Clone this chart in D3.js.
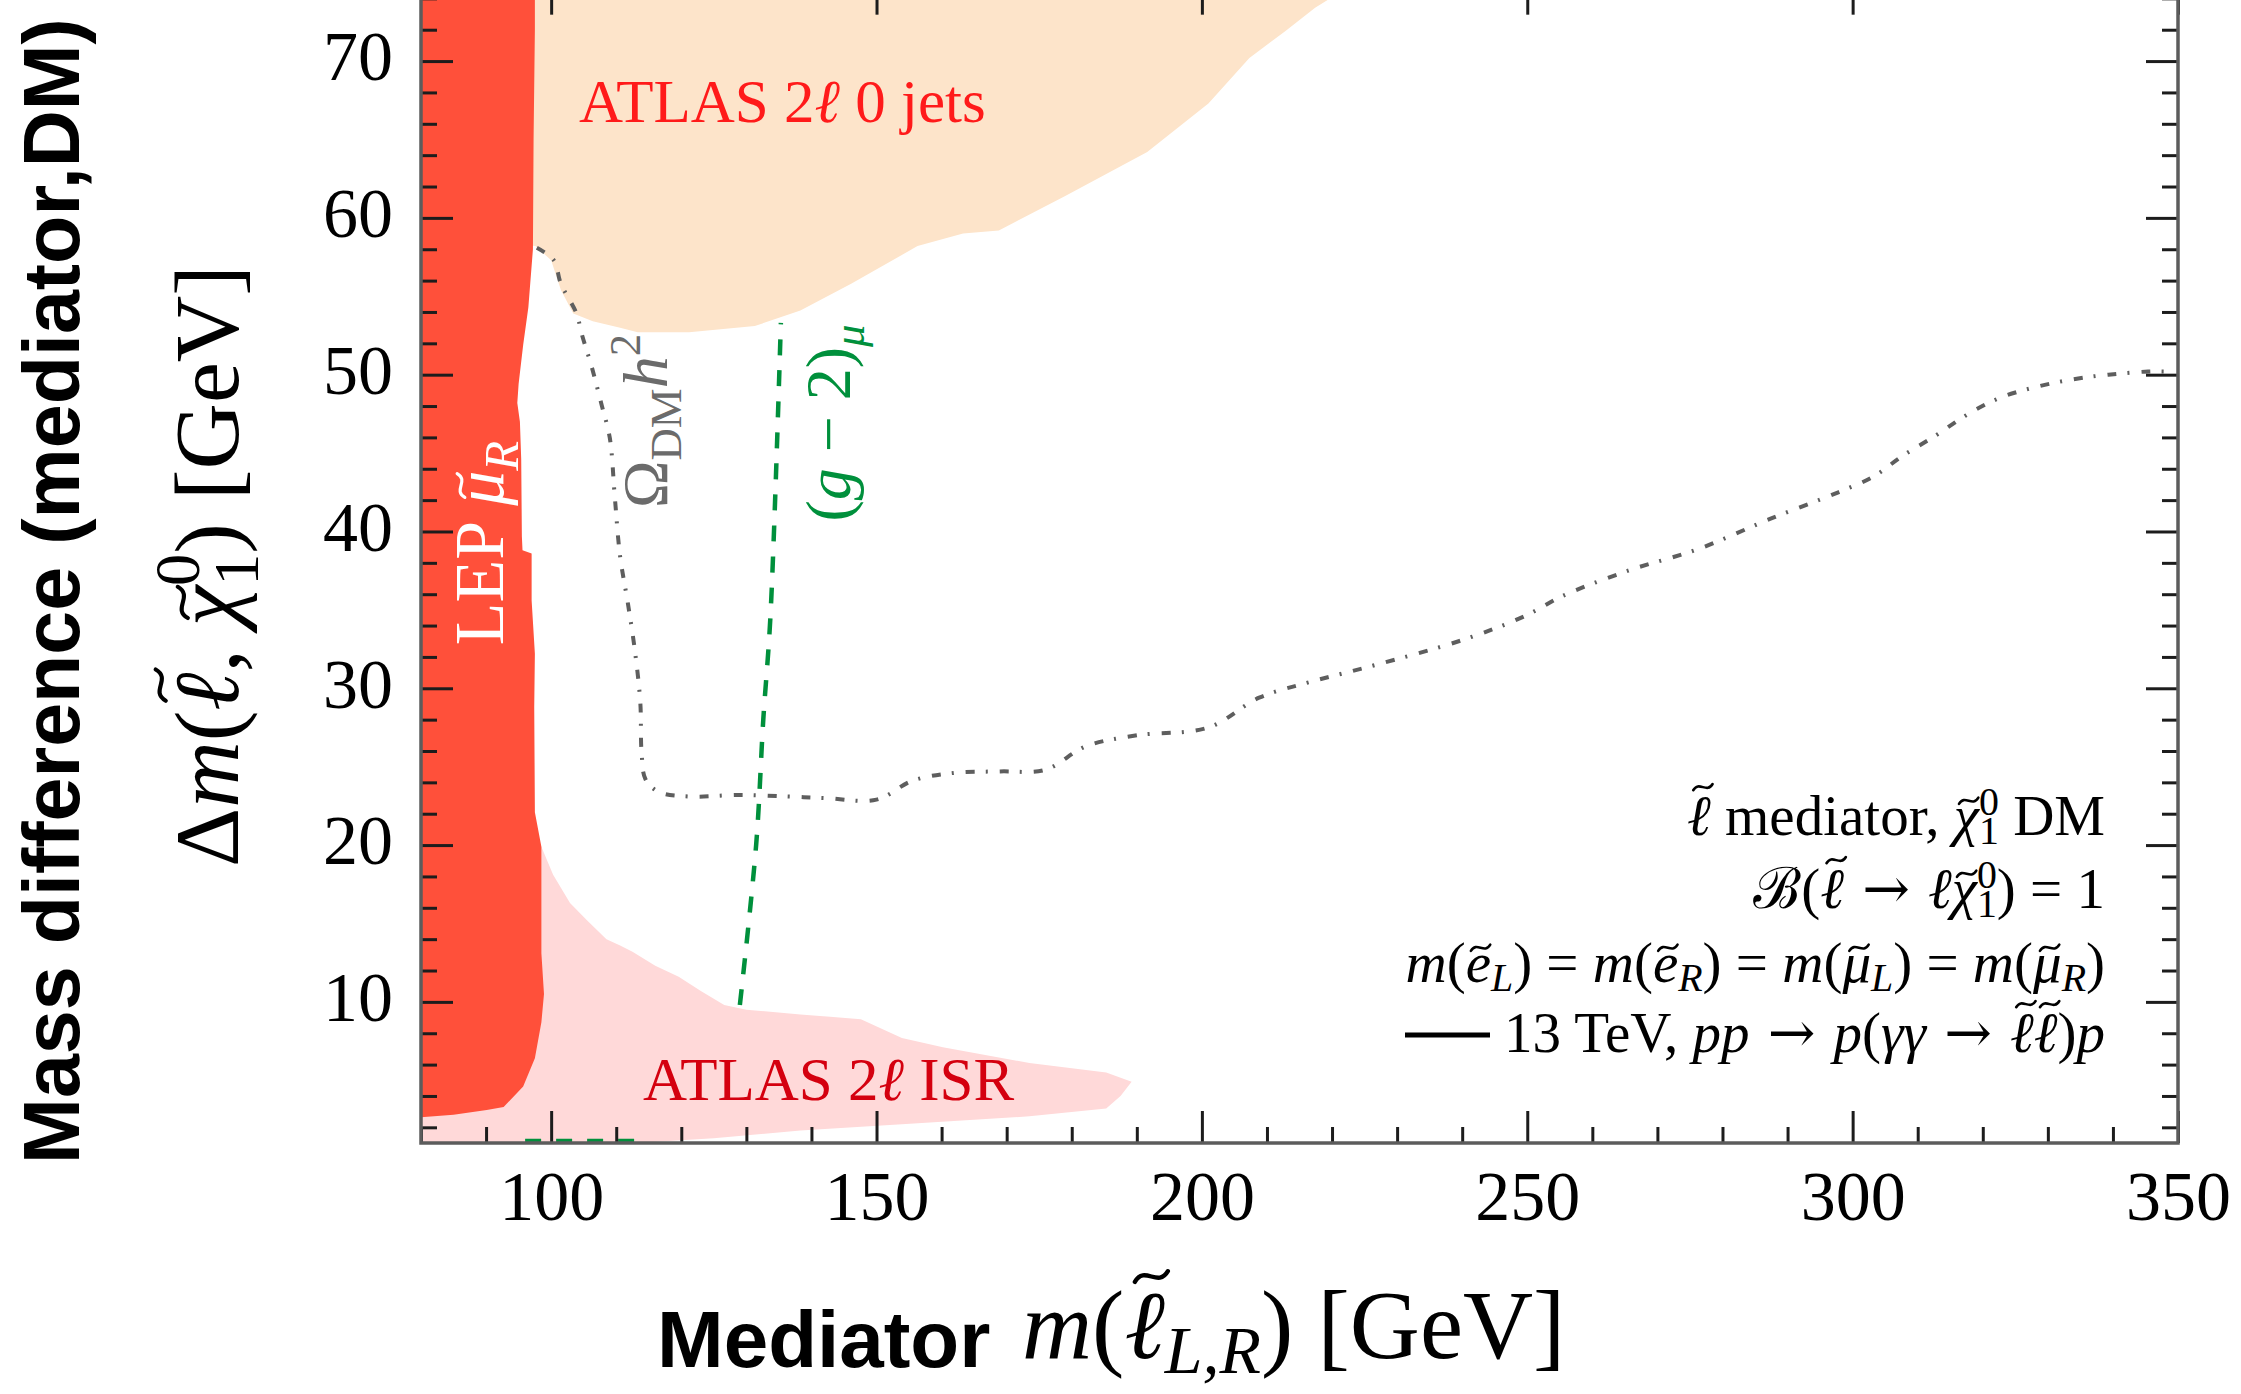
<!DOCTYPE html>
<html>
<head>
<meta charset="utf-8">
<script src="https://cdn.jsdelivr.net/npm/d3@7"></script>
<style>
  html, body { margin: 0; padding: 0; background: #fff; }
  svg { display: block; }
  text { white-space: pre; }
</style>
</head>
<body>
<svg id="chart" width="2241" height="1394"></svg>
<script>
// Axis ranges and ticks
const xDomain = [80, 350];
const yDomain = [1, 75];
const xMajorTicks = [100, 150, 200, 250, 300, 350];
const yMajorTicks = [10, 20, 30, 40, 50, 60, 70];
const xMinorStep = 10;
const yMinorStep = 2;

// LEP smuon_R exclusion: right-hand edge, top to bottom [m, dm]
const lepEdge = [
  [97.5, 75], [97.5, 72], [97.3, 65], [97.2, 58], [96.5, 54.3], [95.7, 51.9],
  [95.0, 49.4], [94.8, 48.2], [95.2, 47.0], [95.4, 44.6], [95.5, 39.7],
  [95.6, 38.8], [97.0, 38.6], [97.0, 35.6], [97.5, 32.2], [97.4, 28.8],
  [97.5, 22.1], [98.5, 19.9], [98.5, 13.1], [98.9, 10.5], [98.5, 8.7],
  [97.5, 6.4], [95.7, 4.6], [92.7, 3.3], [90.1, 3.1], [85.0, 2.8], [80, 2.65]
];

// ATLAS 2l 0 jets exclusion: lower edge, left to right
const atlas0jEdge = [
  [95, 58.3], [97.6, 58.2], [100, 57.3], [101.5, 55.4], [103.4, 53.9],
  [106.4, 53.4], [110.6, 53.0], [113.3, 52.7], [121.2, 52.7], [131.3, 53.1],
  [138.3, 54.1], [146.1, 55.8], [156.3, 58.2], [163.3, 59.0], [168.8, 59.2],
  [179.0, 61.4], [191.6, 64.2], [201.0, 67.3], [207.3, 70.2], [212.8, 71.9],
  [217.4, 73.4], [220.5, 74.2], [223, 75]
];

// ATLAS 2l ISR exclusion: outline from the upper-left, round the tip, back along the floor
const atlasIsrEdge = [
  [95, 20.2], [98.5, 19.9], [100.3, 18.1], [102.9, 16.3], [105.5, 15.2],
  [108.5, 14.0], [110.6, 13.6], [112.5, 13.2], [116, 12.3], [119.6, 11.6],
  [123, 10.7], [126.6, 9.8], [130, 9.5], [138.3, 9.2], [147.6, 8.9],
  [153.9, 7.7], [160.2, 7.1], [173.5, 6.1], [185.3, 5.5], [189.2, 4.9],
  [187.5, 4.0], [185.3, 3.2], [173.5, 2.7], [153.9, 2.2], [138.3, 1.8],
  [125, 1.3], [113, 1.0], [80, 1.0]
];

// Relic density contour Omega_DM h^2
const relicLine = [
  [97.8, 58.1], [100.4, 57.3], [101.5, 55.8], [103.9, 53.9], [104.7, 52.6],
  [106.3, 50.4], [107.8, 48.0], [109.0, 46.0], [109.8, 42.1], [110.6, 38.4],
  [111.8, 35.4], [112.9, 32.3], [113.7, 29.1], [113.9, 25.9], [114.5, 24.2],
  [116.5, 23.4], [121.2, 23.1], [129.0, 23.2], [136.1, 23.1], [142, 23.0],
  [150.0, 22.9], [155.5, 24.1], [161.8, 24.6], [169, 24.7], [175.9, 24.8],
  [182.2, 26.3], [190, 27.0], [201.0, 27.5], [208.8, 29.4], [216.6, 30.4],
  [226.8, 31.5], [240.2, 33.1], [249.6, 34.6], [255.5, 35.9], [265.5, 37.5],
  [276.4, 38.9], [287.3, 40.8], [297.8, 42.5], [303.2, 43.5], [307.6, 44.8],
  [312.7, 46.1], [317.4, 47.4], [322.5, 48.5], [328.0, 49.2], [333.8, 49.7],
  [339.3, 50.0], [345.4, 50.2], [348.3, 50.2]
];

// Muon g-2 contour (upper branch and the stretch along the floor)
const gm2Line = [[129.0, 9.8], [131.5, 20.0], [132.6, 28.0], [133.7, 34.6], [135.3, 53.3]];
const gm2Floor = [[96, 1.12], [113.5, 1.12]];

const SERIF = "'Liberation Serif','Times New Roman',Times,serif";
const SANS = "'Liberation Sans',Arial,Helvetica,sans-serif";
const ARROW_FONT = "'DejaVu Serif',serif";

const svg = d3.select("#chart");
svg.append("rect").attr("width", 2241).attr("height", 1394).attr("fill", "#fff");

const x = d3.scaleLinear().domain(xDomain).range([421, 2178]);
const y = d3.scaleLinear().domain(yDomain).range([1143, 1143 - 74 * 15.68]);

const x0 = x(xDomain[0]), x1 = x(xDomain[1]);
const yTop = y(yDomain[1]), yBot = y(yDomain[0]);

svg.append("defs").append("clipPath").attr("id", "plotClip")
  .append("rect").attr("x", x0).attr("y", yTop).attr("width", x1 - x0).attr("height", yBot - yTop);

const plot = svg.append("g").attr("clip-path", "url(#plotClip)");

const poly = d3.line().x(d => x(d[0])).y(d => y(d[1])).curve(d3.curveLinearClosed);
const smooth = d3.line().x(d => x(d[0])).y(d => y(d[1])).curve(d3.curveCatmullRom.alpha(0.5));

// excluded regions
plot.append("path").attr("d", poly(atlasIsrEdge.concat([[80, 20.2]])))
  .attr("fill", "#ffd9d9");
plot.append("path").attr("d", poly([[95, 75]].concat(atlas0jEdge)))
  .attr("fill", "#fde4ca");
plot.append("path").attr("d", poly([[80, 75]].concat(lepEdge)))
  .attr("fill", "#ff503a");

// contours
plot.append("path").attr("d", smooth(relicLine))
  .attr("fill", "none").attr("stroke", "#5e5e5e").attr("stroke-width", 4)
  .attr("stroke-dasharray", "9,11,2,12");
plot.append("path").attr("d", smooth(gm2Line))
  .attr("fill", "none").attr("stroke", "#00903c").attr("stroke-width", 4.5)
  .attr("stroke-dasharray", "16,15");
plot.append("path").attr("d", smooth(gm2Floor))
  .attr("fill", "none").attr("stroke", "#00903c").attr("stroke-width", 4.5)
  .attr("stroke-dasharray", "16,15");

// text with italic pieces, sub- and superscripts and tilde accents
function rich(parent, parts, size, opts) {
  const baseY = opts.y || 0;
  const fill = opts.fill || "#000";
  const t = parent.append("text")
    .attr("x", opts.x || 0).attr("y", baseY)
    .attr("text-anchor", opts.anchor || "start")
    .attr("fill", fill)
    .style("font-family", opts.family || SERIF)
    .style("font-size", size + "px");
  let cur = 0, idx = 0;
  const accents = [];
  parts.forEach(p => {
    const s = t.append("tspan").text(p.t);
    let target = 0, fs = size;
    if (p.sub) { target = (opts.subShift || 0.22) * size; fs = 0.7 * size; }
    if (p.sup) { target = -(opts.supShift || 0.42) * size; fs = 0.7 * size; }
    if (target - cur !== 0) s.attr("dy", target - cur);
    cur = target;
    if (fs !== size) s.style("font-size", fs + "px");
    if (p.i) s.style("font-style", "italic");
    if (p.font) s.style("font-family", p.font);
    if (p.back) s.attr("dx", -0.35 * size);
    if (p.tilde) accents.push({ index: idx, fs: fs, tall: p.tilde === "tall" });
    idx += p.t.length;
  });
  // tilde accents drawn over their glyphs
  const node = t.node();
  accents.forEach(a => {
    const ext = node.getExtentOfChar(a.index);
    const fs = a.fs;
    const w = 0.34 * fs, amp = 0.055 * fs;
    const cx = ext.x + ext.width / 2 + (a.tall ? 0.07 : 0.04) * fs;
    const cy = baseY - (a.tall ? 0.84 : 0.6) * fs;
    parent.append("path")
      .attr("d", `M${cx - w / 2},${cy + amp} C${cx - w / 5},${cy - amp * 2.2} ${cx + w / 5},${cy + amp * 2.2} ${cx + w / 2},${cy - amp}`)
      .attr("fill", "none").attr("stroke", fill).attr("stroke-width", 0.045 * fs)
      .attr("stroke-linecap", "round");
  });
  return t;
}

// region labels
rich(plot, [{ t: "ATLAS 2" }, { t: "ℓ", i: 1 }, { t: " 0 jets" }], 61,
  { x: 579, y: 122, fill: "#ff1a1a" });
rich(plot, [{ t: "ATLAS 2" }, { t: "ℓ", i: 1 }, { t: " ISR" }], 61,
  { x: 643, y: 1100, fill: "#d4000f" });

const lepG = plot.append("g").attr("transform", "translate(503,543) rotate(-90)");
rich(lepG, [{ t: "LEP " }, { t: "μ", i: 1, tilde: 1 }, { t: "R", i: 1, sub: 1 }], 70,
  { anchor: "middle", fill: "#fff" });

const relG = plot.append("g").attr("transform", "translate(667,421) rotate(-90)");
rich(relG, [{ t: "Ω" }, { t: "DM", sub: 1 }, { t: "h", i: 1 }, { t: "2", sup: 1 }], 64,
  { anchor: "middle", fill: "#6b6b6b" });

const gmG = plot.append("g").attr("transform", "translate(850,423) rotate(-90)");
rich(gmG, [{ t: "(" }, { t: "g", i: 1 }, { t: " − 2)" }, { t: "μ", i: 1, sub: 1 }], 64,
  { anchor: "middle", fill: "#00903c" });

// model description block
const legendLines = [
  [{ t: "ℓ", i: 1, tilde: "tall" }, { t: " mediator, " }, { t: "χ", i: 1, tilde: 1 }, { t: "0", sup: 1 }, { t: "1", sub: 1, back: 1 }, { t: " DM" }],
  [{ t: "ℬ" }, { t: "(" }, { t: "ℓ", i: 1, tilde: "tall" }, { t: " → ", font: ARROW_FONT }, { t: "ℓ", i: 1 }, { t: "χ", i: 1, tilde: 1 }, { t: "0", sup: 1 }, { t: "1", sub: 1, back: 1 }, { t: ") = 1" }],
  [{ t: "m", i: 1 }, { t: "(" }, { t: "e", i: 1, tilde: 1 }, { t: "L", i: 1, sub: 1 }, { t: ") = " },
   { t: "m", i: 1 }, { t: "(" }, { t: "e", i: 1, tilde: 1 }, { t: "R", i: 1, sub: 1 }, { t: ") = " },
   { t: "m", i: 1 }, { t: "(" }, { t: "μ", i: 1, tilde: 1 }, { t: "L", i: 1, sub: 1 }, { t: ") = " },
   { t: "m", i: 1 }, { t: "(" }, { t: "μ", i: 1, tilde: 1 }, { t: "R", i: 1, sub: 1 }, { t: ")" }],
  [{ t: "13 TeV, " }, { t: "pp", i: 1 }, { t: " → ", font: ARROW_FONT }, { t: "p", i: 1 }, { t: "(" }, { t: "γγ", i: 1 },
   { t: " → ", font: ARROW_FONT }, { t: "ℓ", i: 1, tilde: "tall" }, { t: "ℓ", i: 1, tilde: "tall" }, { t: ")" }, { t: "p", i: 1 }]
];
const legendBaselines = [835, 908, 982, 1052];
legendLines.forEach((parts, k) => {
  rich(svg, parts, 57, { x: 2105, y: legendBaselines[k], anchor: "end", supShift: 0.35, subShift: 0.15 });
});
svg.append("line").attr("x1", 1405).attr("x2", 1490).attr("y1", 1035).attr("y2", 1035)
  .attr("stroke", "#000").attr("stroke-width", 5);

// axes: ticks point into the frame
function styleAxis(g, labels) {
  g.select(".domain").remove();
  g.selectAll(".tick line").attr("stroke", "#1c1c1c").attr("stroke-width", 3);
  g.attr("font-family", SERIF).attr("font-size", 70);
  if (!labels) g.selectAll(".tick text").remove();
}
const minorX = d3.range(xDomain[0], xDomain[1] + 1, xMinorStep).filter(v => v % 50 !== 0);
const minorY = d3.range(2, yDomain[1], yMinorStep).filter(v => v % 10 !== 0);

const gB = svg.append("g").attr("transform", `translate(0,${yBot})`)
  .call(d3.axisBottom(x).tickValues(xMajorTicks).tickSizeInner(-32).tickSizeOuter(0).tickFormat(d3.format("d")));
styleAxis(gB, true);
gB.selectAll(".tick text").attr("y", 77).attr("dy", null).attr("fill", "#000");
svg.append("g").attr("transform", `translate(0,${yBot})`)
  .call(d3.axisBottom(x).tickValues(minorX).tickSizeInner(-16).tickSizeOuter(0).tickFormat(""))
  .call(g => styleAxis(g, false));

const gL = svg.append("g").attr("transform", `translate(${x0},0)`)
  .call(d3.axisLeft(y).tickValues(yMajorTicks).tickSizeInner(-32).tickSizeOuter(0).tickFormat(d3.format("d")));
styleAxis(gL, true);
gL.selectAll(".tick text").attr("x", -28).attr("dy", "0.27em").attr("fill", "#000");
svg.append("g").attr("transform", `translate(${x0},0)`)
  .call(d3.axisLeft(y).tickValues(minorY).tickSizeInner(-16).tickSizeOuter(0).tickFormat(""))
  .call(g => styleAxis(g, false));

svg.append("g").attr("transform", `translate(0,${yTop})`)
  .call(d3.axisTop(x).tickValues(xMajorTicks).tickSizeInner(-32).tickSizeOuter(0).tickFormat(""))
  .call(g => styleAxis(g, false));
svg.append("g").attr("transform", `translate(0,${yTop})`)
  .call(d3.axisTop(x).tickValues(minorX).tickSizeInner(-16).tickSizeOuter(0).tickFormat(""))
  .call(g => styleAxis(g, false));

svg.append("g").attr("transform", `translate(${x1},0)`)
  .call(d3.axisRight(y).tickValues(yMajorTicks).tickSizeInner(-32).tickSizeOuter(0).tickFormat(""))
  .call(g => styleAxis(g, false));
svg.append("g").attr("transform", `translate(${x1},0)`)
  .call(d3.axisRight(y).tickValues(minorY).tickSizeInner(-16).tickSizeOuter(0).tickFormat(""))
  .call(g => styleAxis(g, false));

// frame
svg.append("rect").attr("x", x0).attr("y", yTop).attr("width", x1 - x0).attr("height", yBot - yTop)
  .attr("fill", "none").attr("stroke", "#5c5c5c").attr("stroke-width", 3.5);

// axis titles
const yt = svg.append("g").attr("transform", "translate(238,566) rotate(-90)");
rich(yt, [{ t: "Δ" }, { t: "m", i: 1 }, { t: "(" }, { t: "ℓ", i: 1, tilde: "tall" }, { t: ", " },
  { t: "χ", i: 1, tilde: 1 }, { t: "0", sup: 1 }, { t: "1", sub: 1, back: 1 }, { t: ") [GeV]" }], 92,
  { anchor: "middle" });

svg.append("g").attr("transform", "translate(79,591) rotate(-90)")
  .append("text").attr("text-anchor", "middle")
  .style("font-family", SANS).style("font-weight", "bold").style("font-size", "79px")
  .text("Mass difference (mediator,DM)");

svg.append("text").attr("x", 657).attr("y", 1367)
  .style("font-family", SANS).style("font-weight", "bold").style("font-size", "80px")
  .text("Mediator");
rich(svg, [{ t: "m", i: 1 }, { t: "(" }, { t: "ℓ", i: 1, tilde: "tall" }, { t: "L,R", i: 1, sub: 1 }, { t: ") [GeV]" }], 97,
  { x: 1022, y: 1358, subShift: 0.15 });
</script>
</body>
</html>
